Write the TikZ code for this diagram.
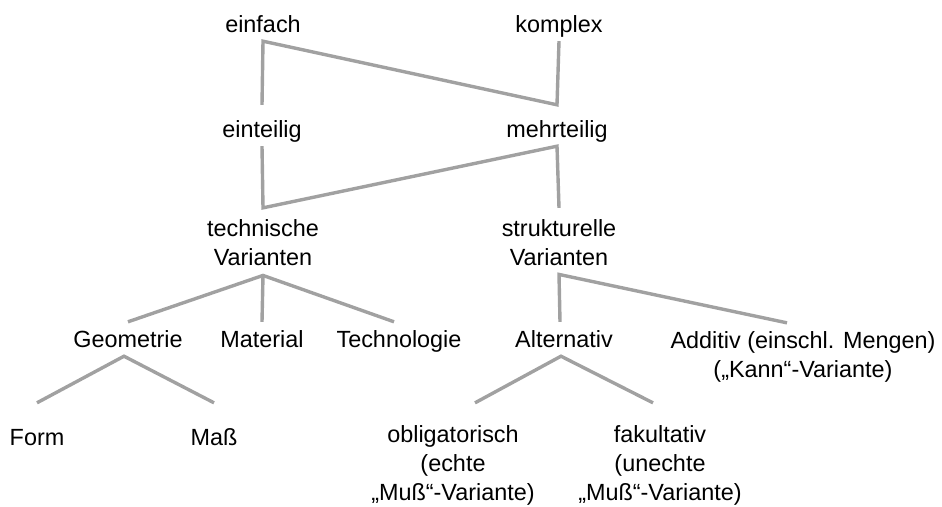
\documentclass[tikz,border=0pt]{standalone}
\usepackage{fontspec}
\setmainfont{Liberation Sans}
\tikzset{
  lbl/.style={anchor=base, inner xsep=2pt, inner ysep=4pt,
    text height=17pt, text depth=5pt,
    font=\fontsize{23.4}{29}\selectfont},
  % several lines: base sits on the last line
  lblmulti/.style={lbl, align=center, text height={}, text depth={}},
  link/.style={draw=black!37, line width=3.4pt},
}
\begin{document}
\begin{tikzpicture}[x=1pt, y=-1pt]
\useasboundingbox (0,0) rectangle (942,506);

% top two levels
\node (einfach)  [lbl] at (263,32)  {einfach};
\node (komplex)  [lbl] at (559,32)  {komplex};
\node (eintl)    [lbl] at (262,137) {einteilig};
\node (mehrtl)   [lbl] at (557,137) {mehrteilig};

% variant kinds
\node (techvar)  [lblmulti] at (263,265) {technische\\Varianten};
\node (strukvar) [lblmulti] at (559,265) {strukturelle\\Varianten};

\node (geo)      [lbl] at (128,347) {Geometrie};
\node (mat)      [lbl] at (262,347) {Material};
\node (technol)  [lbl] at (399,347) {Technologie};
\node (alt)      [lbl] at (564,347) {Alternativ};
\node (add)      [lblmulti] at (803,377) {Additiv (einschl. Mengen)\\(„Kann“-Variante)};

\node (form)     [lbl] at (37,445)  {Form};
\node (mass)     [lbl] at (214,445) {Maß};
\node (oblig)    [lblmulti, inner ysep=0pt] at (453,500) {obligatorisch\\(echte\\„Muß“-Variante)};
\node (fakult)   [lblmulti, inner ysep=0pt] at (660,500) {fakultativ\\(unechte\\„Muß“-Variante)};

% the two zig-zags
\draw[link] ([yshift=11pt]eintl.north) -- (einfach.south)
  -- ([yshift=11pt]mehrtl.north) -- (komplex.south);
\draw[link] (eintl.south) -- ([yshift=7pt]techvar.north)
  -- (mehrtl.south) -- ([yshift=7pt]strukvar.north);

% technical branch
\draw[link] ([yshift=4pt]geo.north) -- ([yshift=-6pt]techvar.south)
  -- ([xshift=-5pt,yshift=4pt]technol.north);
\draw[link] ([yshift=-6pt]techvar.south) -- ([yshift=4pt]mat.north);
\draw[link] ([yshift=21pt]form.north) -- ([xshift=-4pt]geo.south)
  -- ([yshift=21pt]mass.north);

% structural branch
\draw[link] ([xshift=-4pt,yshift=4pt]alt.north) -- ([yshift=-5pt]strukvar.south)
  -- ([xshift=-16pt,yshift=4pt]add.north);
\draw[link] ([xshift=22pt,yshift=22pt]oblig.north) -- ([xshift=-3pt]alt.south)
  -- ([xshift=-7pt,yshift=22pt]fakult.north);

\end{tikzpicture}
\end{document}
